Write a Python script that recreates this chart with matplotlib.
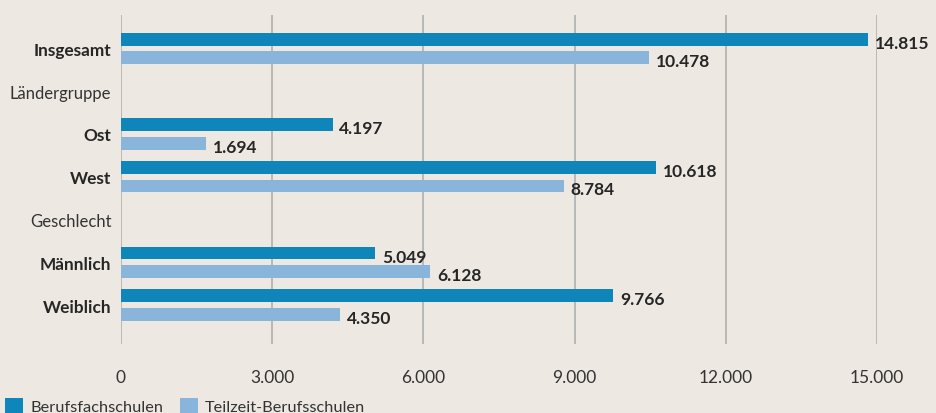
import matplotlib
matplotlib.use("Agg")
import matplotlib.pyplot as plt
from matplotlib.patches import Patch
import numpy as np

plt.rcParams['font.family'] = ['Lato', 'DejaVu Sans']

categories = ["Insgesamt", "Ländergruppe", "Ost", "West", "Geschlecht", "Männlich", "Weiblich"]
is_header = [False, True, False, False, True, False, False]
berufsfach = [14815, None, 4197, 10618, None, 5049, 9766]
teilzeit = [10478, None, 1694, 8784, None, 6128, 4350]
series_names = ["Berufsfachschulen", "Teilzeit-Berufsschulen"]
xticks = [0, 3000, 6000, 9000, 12000, 15000]

BG = "#ede9e2"
DARK = "#0e86ba"
LIGHT = "#8ab5da"
GRID = "#b8b8b8"
TXT = "#262626"

def de_fmt(v):
    return f"{v:,.0f}".replace(",", ".")

W, H = 937, 414
fig = plt.figure(figsize=(W / 100, H / 100), dpi=100, facecolor=BG)
left, right = 121 / W, 877 / W
top, bottom = 1 - 16 / H, 1 - 345 / H
ax = fig.add_axes([left, bottom, right - left, top - bottom], facecolor=BG)

n = len(categories)
y = np.arange(n)
bh = 0.30
off = 0.216

for i in range(n):
    if is_header[i]:
        continue
    ax.barh(y[i] - off, berufsfach[i], height=bh, color=DARK, zorder=3)
    ax.barh(y[i] + off, teilzeit[i], height=bh, color=LIGHT, zorder=3)
    ax.annotate(de_fmt(berufsfach[i]), (berufsfach[i], y[i] - off), xytext=(5, -2.5),
                textcoords="offset points", va="center", ha="left",
                fontsize=12.5, fontweight="bold", color=TXT, zorder=4)
    ax.annotate(de_fmt(teilzeit[i]), (teilzeit[i], y[i] + off), xytext=(5, -2.5),
                textcoords="offset points", va="center", ha="left",
                fontsize=12.5, fontweight="bold", color=TXT, zorder=4)

ax.set_xlim(0, 15000)
ax.set_ylim(n - 1 + 0.91, -0.78)
ax.set_xticks(xticks)
ax.set_xticklabels([de_fmt(t) for t in xticks], fontsize=12.5, color="#333333")
ax.set_yticks(y)
ax.set_yticklabels(categories, fontsize=12.4, color=TXT)
for lbl, h in zip(ax.get_yticklabels(), is_header):
    lbl.set_fontweight("normal" if h else "bold")
    if h:
        lbl.set_color("#333333")
        lbl.set_fontsize(12.0)
ax.tick_params(axis="both", length=0)
ax.tick_params(axis="x", pad=18)
ax.tick_params(axis="y", pad=7)
for s in ax.spines.values():
    s.set_visible(False)
ax.grid(axis="x", color=GRID, linewidth=1.4, zorder=0)
ax.grid(axis="y", visible=False)
ax.set_axisbelow(True)

handles = [Patch(facecolor=DARK, edgecolor="none"), Patch(facecolor=LIGHT, edgecolor="none")]
fig.legend(handles, series_names, loc="center left", bbox_to_anchor=(5 / W, 1 - 407 / H),
           ncol=2, frameon=False, fontsize=11.8, handlelength=1.1, handleheight=1.1,
           handletextpad=0.45, columnspacing=1.0, borderpad=0, borderaxespad=0,
           labelcolor="#333333")

fig.savefig("out.png", dpi=100, facecolor=BG)
